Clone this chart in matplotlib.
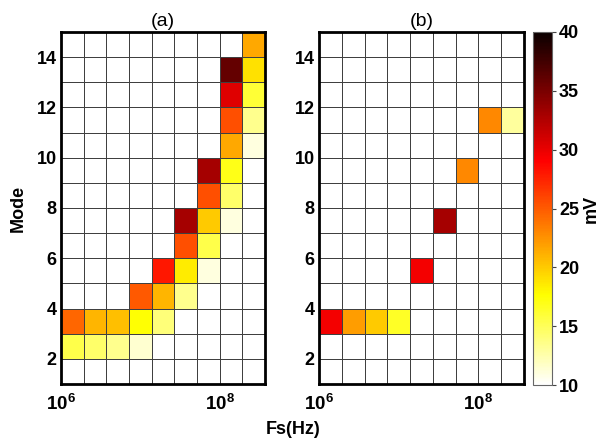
import numpy as np
import matplotlib
matplotlib.use("Agg")
import matplotlib.pyplot as plt

plt.rcParams['font.family'] = ['Liberation Sans', 'DejaVu Sans']
plt.rcParams['mathtext.fontset'] = 'custom'
plt.rcParams['mathtext.rm'] = 'Liberation Sans'
plt.rcParams['mathtext.bf'] = 'Liberation Sans:bold'

# frequency bins: 9 log-spaced columns, 2/7 decade each starting at 1 MHz
fs_edges = 10 ** (6 + 2 * np.arange(10) / 7)
# mode bins: 14 rows between 1 and 15
mode_edges = np.arange(1, 16)

# panel (a): (column, mode row lower edge, value in mV)
a_cols = [0, 0, 1, 1, 2, 2, 3, 3, 3, 4, 4, 4, 5, 5, 5, 5,
          6, 6, 6, 6, 6, 7, 7, 7, 7, 7, 7, 7, 8, 8, 8, 8, 8]
a_rows = [3, 2, 3, 2, 3, 2, 4, 3, 2, 5, 4, 3, 7, 6, 5, 4,
          9, 8, 7, 6, 5, 13, 12, 11, 10, 9, 8, 7, 14, 13, 12, 11, 10]
a_vals = [24.5, 15.5, 21, 14.5, 20.5, 13.5, 25, 17.5, 11.5, 28, 21, 14, 33, 25.5, 18.5, 13.5,
          33, 25.5, 20, 15.5, 11, 36, 30.5, 25.5, 21.5, 17, 14.5, 11, 21.5, 19, 16, 13.5, 11]

# panel (b)
b_cols = [0, 1, 2, 3, 4, 5, 6, 7, 8]
b_rows = [3, 3, 3, 3, 5, 7, 9, 11, 11]
b_vals = [29.5, 22, 20, 16.5, 29.5, 33, 23, 23, 13]

vmin, vmax = 10, 40


def make_grid(cols, rows, vals):
    grid = np.full((len(mode_edges) - 1, len(fs_edges) - 1), float(vmin))
    for c, r, v in zip(cols, rows, vals):
        grid[r - 1, c] = v
    return grid


fig = plt.figure(figsize=(6.15, 4.46), dpi=100)
ax_a = fig.add_axes([61 / 615, 62 / 446, 204 / 615, 352 / 446])
ax_b = fig.add_axes([319 / 615, 62 / 446, 205 / 615, 352 / 446])
cax = fig.add_axes([533 / 615, 61 / 446, 19 / 615, 353 / 446])

for ax, title, (cols, rows, vals) in [(ax_a, '(a)', (a_cols, a_rows, a_vals)),
                                      (ax_b, '(b)', (b_cols, b_rows, b_vals))]:
    grid = make_grid(cols, rows, vals)
    mesh = ax.pcolormesh(fs_edges, mode_edges, grid, cmap='hot_r', vmin=vmin, vmax=vmax,
                         edgecolor='#404040', linewidth=0.65)
    ax.set_xscale('log')
    ax.set_xlim(fs_edges[0], fs_edges[-1])
    ax.set_ylim(1, 15)
    ax.set_xticks([1e6, 1e8])
    ax.set_xticklabels([r'$\mathbf{10^{6}}$', r'$\mathbf{10^{8}}$'], fontsize=13.5)
    ax.xaxis.set_minor_locator(matplotlib.ticker.NullLocator())
    ax.set_yticks(range(2, 15, 2))
    ax.set_yticklabels([str(v) for v in range(2, 15, 2)], fontsize=13, fontweight='bold')
    ax.tick_params(length=0, pad=3)
    ax.tick_params(axis='x', pad=7)
    for sp in ax.spines.values():
        sp.set_linewidth(2)
        sp.set_color('black')
    ax.set_title(title, fontsize=14, pad=4)

ax_a.set_ylabel('Mode', fontsize=13, fontweight='bold', labelpad=7)
fig.text(293 / 615, 16 / 446, 'Fs(Hz)', ha='center', va='center', fontsize=13, fontweight='bold')

cb = fig.colorbar(mesh, cax=cax, ticks=[10, 15, 20, 25, 30, 35, 40])
cb.outline.set_edgecolor('#666666')
cb.outline.set_linewidth(0.8)
cax.tick_params(length=3, width=0.8, color='#444444', pad=2)
for lbl in cax.get_yticklabels():
    lbl.set_fontsize(13)
    lbl.set_fontweight('bold')
cb.set_label('mV', fontsize=13, fontweight='bold', labelpad=3)

fig.savefig('out.png', dpi=100)
